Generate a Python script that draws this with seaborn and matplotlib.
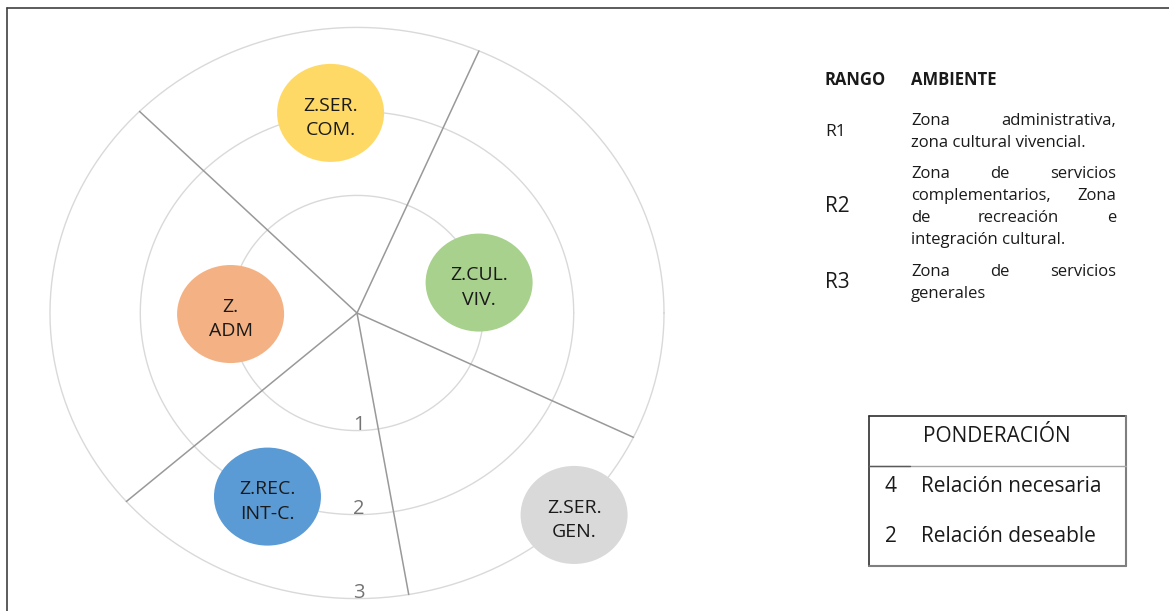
import numpy as np
import pandas as pd
import matplotlib
matplotlib.use("Agg")
import matplotlib.pyplot as plt
import seaborn as sns
from matplotlib.patches import Ellipse
from matplotlib.lines import Line2D

# datos del diagrama
levels = [1, 2, 3]
spoke_angles = [66.6, 135.1, 221.3, 279.7, 334.2]
zones = ["Z.\nADM", "Z.CUL.\nVIV.", "Z.SER.\nCOM.", "Z.REC.\nINT-C.", "Z.SER.\nGEN."]
zone_level = [1, 1, 2, 2, 3]
zone_angle = [180.5, 15, 97, 245.6, 315]
zone_colors = ["#F4B183", "#A9D18E", "#FFD966", "#5B9BD5", "#D9D9D9"]

rangos = ["R1", "R2", "R3"]
ambientes = [
    ["Zona administrativa,", "zona cultural vivencial."],
    ["Zona de servicios", "complementarios, Zona", "de recreación e", "integración cultural."],
    ["Zona de servicios", "generales"],
]
pond_values = ["4", "2"]
pond_labels = ["Relación necesaria", "Relación deseable"]

W, H = 1169, 611
R0 = 0.4  # desplazamiento radial del eje
sx, sy = 90.3, 84.0  # px por unidad
cx, cy = 357, 313


def px(x, y):
    return x / W, 1 - y / H


def fline(x0, y0, x1, y1, color, lw=1.2):
    fig.add_artist(Line2D([x0 / W, x1 / W], [1 - y0 / H, 1 - y1 / H], color=color, lw=lw))


sns.set_theme(style="white")
plt.rcParams["font.family"] = ["Open Sans", "DejaVu Sans"]

fig = plt.figure(figsize=(W / 100, H / 100), dpi=100)
ax = fig.add_axes([0, 0, 1, 1])
ax.set_xlim(-cx / sx, (W - cx) / sx)
ax.set_ylim(-(H - cy) / sy, cy / sy)
ax.axis("off")

# anillos
t = np.linspace(0, 2 * np.pi, 361)
rings = pd.concat([
    pd.DataFrame({"x": (lv + R0) * np.cos(t), "y": (lv + R0) * np.sin(t), "level": lv})
    for lv in levels
])
sns.lineplot(data=rings, x="x", y="y", units="level", estimator=None, sort=False,
             color="#D9D9D9", lw=1.0, ax=ax)

# radios
rmax = max(levels) + R0
spokes = pd.concat([
    pd.DataFrame({"x": [0, rmax * np.cos(np.radians(a))], "y": [0, rmax * np.sin(np.radians(a))], "spoke": k})
    for k, a in enumerate(spoke_angles)
])
sns.lineplot(data=spokes, x="x", y="y", units="spoke", estimator=None, sort=False,
             color="#999999", lw=1.1, ax=ax)

# etiquetas de nivel
for lv in levels:
    ax.text(0.02, -(lv + R0) + 0.07, str(lv), ha="center", va="center", fontsize=14.5, color="#747474")

# burbujas
for name, lv, ang, col in zip(zones, zone_level, zone_angle, zone_colors):
    r = lv + R0
    x, y = r * np.cos(np.radians(ang)), r * np.sin(np.radians(ang))
    ax.add_patch(Ellipse((x, y), 1.185, 1.167, facecolor=col, edgecolor="none", zorder=3))
    ax.text(x, y - 0.06, name, ha="center", va="center", fontsize=14, color="#1A1A1A",
            linespacing=1.45, zorder=4)

# borde
fline(7, 8, W, 8, "#404040")
fline(7, 8, 7, H, "#404040")

# tabla de rangos
fig.text(*px(825, 80), "RANGO", fontsize=12, fontweight="bold", va="center", color="#1A1A1A")
fig.text(*px(911, 80), "AMBIENTE", fontsize=12, fontweight="bold", va="center", color="#1A1A1A")

renderer = fig.canvas.get_renderer()
x_left, x_right = 911, 1116
line_h = 22
body = 12
starts = [121, 174, 272]
label_sizes = [12.5, 15, 15]
for rg, lines, y0, ls in zip(rangos, ambientes, starts, label_sizes):
    ymid = y0 + line_h * (len(lines) - 1) / 2
    fig.text(*px(825, ymid), rg, fontsize=ls, va="center", color="#1A1A1A")
    for j, line in enumerate(lines):
        yy = y0 + j * line_h
        words = line.split()
        last = j == len(lines) - 1
        if last or len(words) == 1:
            fig.text(*px(x_left, yy), line, fontsize=body, va="center", color="#1A1A1A")
            continue
        objs = [fig.text(0, 0, w, fontsize=body, va="center", color="#1A1A1A") for w in words]
        widths = [o.get_window_extent(renderer).width for o in objs]
        gap = (x_right - x_left - sum(widths)) / (len(words) - 1)
        xx = x_left
        for o, w in zip(objs, widths):
            o.set_position(px(xx, yy))
            xx += w + gap

# cuadro de ponderación
bx0, by0, bx1, by1 = 869, 416, 1126, 566
fline(bx0, by0, bx1, by0, "#2F2F2F")
fline(bx0, by0, bx0, by1, "#2F2F2F")
fline(bx1, by0, bx1, by1, "#7F7F7F", 1.5)
fline(bx0, by1, bx1, by1, "#7F7F7F", 1.5)
fline(bx0, 466, bx1, 466, "#A6A6A6", 1.0)
fline(bx0, 466, 910, 466, "#595959", 1.0)
fig.text(*px(997, 436), "PONDERACIÓN", fontsize=15, ha="center", va="center", color="#1A1A1A")
for k, (v, lab) in enumerate(zip(pond_values, pond_labels)):
    yy = 487 + k * 50
    fig.text(*px(891, yy), v, fontsize=15, ha="center", va="center", color="#1A1A1A")
    fig.text(*px(921, yy), lab, fontsize=15, va="center", color="#1A1A1A")

fig.savefig("out.png", dpi=100)
